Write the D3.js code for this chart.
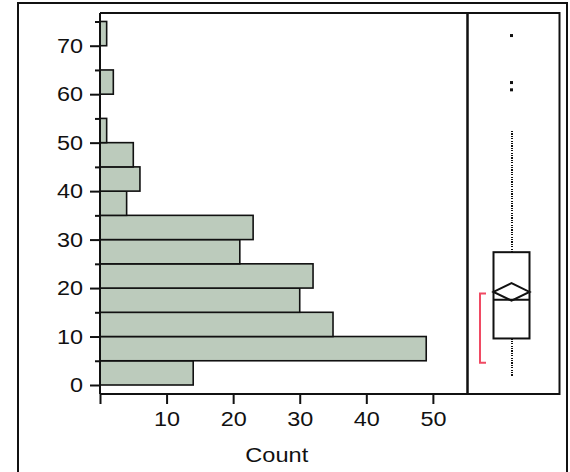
<!DOCTYPE html>
<html>
<head>
<meta charset="utf-8">
<script src="https://cdn.jsdelivr.net/npm/d3@7"></script>
<style>
  html, body { margin: 0; padding: 0; background: #fff; }
  svg { display: block; }
  text { font-family: "Liberation Sans", Arial, sans-serif; fill: #111; }
</style>
</head>
<body>
<script>
// Histogram bins (lower edge, width 5) and their counts
const binStarts = [0, 5, 10, 15, 20, 25, 30, 35, 40, 45, 50, 55, 60, 65, 70];
const binCounts = [14, 49, 35, 30, 32, 21, 23, 4, 6, 5, 1, 0, 2, 0, 1];
const binWidth = 5;

// Axis ticks
const yMajorTicks = [0, 10, 20, 30, 40, 50, 60, 70];
const yMinorTicks = [5, 15, 25, 35, 45, 55, 65, 75];
const xTicks = [10, 20, 30, 40, 50];

// Outlier box plot summary
const whiskerLow = 1.7;
const quartile1 = 9.6;
const medianValue = 17.6;
const quartile3 = 27.4;
const whiskerHigh = 52.4;
const meanValue = 19.2;
const meanCI = [17.4, 21.0];
const shortestHalf = [4.6, 18.9];
const outliers = [60.9, 62.4, 72.1];

const W = 570, H = 472;
const svg = d3.select("body").append("svg").attr("width", W).attr("height", H);

// Outer frame
svg.append("rect").attr("x", 18).attr("y", 3).attr("width", 549).attr("height", 490)
  .attr("fill", "none").attr("stroke", "#111").attr("stroke-width", 2);

const plotTop = 13, plotBottom = 394, plotLeft = 100, histRight = 467.5;
const boxLeft = 467.5, boxRight = 559.5;

const y = d3.scaleLinear().domain([-1.857, 76.75]).range([plotBottom, plotTop]);
const x = d3.scaleLinear().domain([0, 55.2]).range([plotLeft, histRight]);

// Bars
svg.append("g").selectAll("rect").data(binStarts.map((s, i) => ({ s, c: binCounts[i] })).filter(d => d.c > 0))
  .join("rect")
  .attr("x", x(0))
  .attr("y", d => y(d.s + binWidth))
  .attr("width", d => x(d.c) - x(0))
  .attr("height", d => y(d.s) - y(d.s + binWidth))
  .attr("fill", "#bccbbc")
  .attr("stroke", "#111")
  .attr("stroke-width", 1.6);

// Histogram panel frame (top and right)
svg.append("path")
  .attr("d", `M${plotLeft},${plotTop}H${histRight}V${plotBottom}`)
  .attr("fill", "none").attr("stroke", "#111").attr("stroke-width", 2);

// Y axis: major ticks with labels, minor ticks without
const yAxis = svg.append("g").attr("transform", `translate(${plotLeft},0)`)
  .call(d3.axisLeft(y).tickValues(yMajorTicks).tickSize(10).tickSizeOuter(0).tickFormat(d3.format("d")));
yAxis.select(".domain").attr("stroke", "#111").attr("stroke-width", 2)
  .attr("d", `M0,${plotTop}V${plotBottom}`);
yAxis.selectAll(".tick line").attr("stroke", "#111").attr("stroke-width", 2);
yAxis.selectAll(".tick text")
  .attr("x", null).attr("dy", null)
  .attr("font-size", 19.5)
  .attr("text-anchor", "end")
  .attr("transform", "translate(-17,6.5) scale(1.2,1)");
svg.append("g").attr("transform", `translate(${plotLeft},0)`)
  .call(d3.axisLeft(y).tickValues(yMinorTicks).tickSize(5).tickFormat(""))
  .call(g => g.select(".domain").remove())
  .call(g => g.selectAll(".tick line").attr("stroke", "#111").attr("stroke-width", 2));

// X axis
const xAxis = svg.append("g").attr("transform", `translate(0,${plotBottom})`)
  .call(d3.axisBottom(x).tickValues([0].concat(xTicks)).tickSize(10).tickSizeOuter(0)
    .tickFormat(d => d === 0 ? "" : d));
xAxis.select(".domain").attr("stroke", "#111").attr("stroke-width", 2)
  .attr("d", `M${plotLeft},0H${histRight}`);
xAxis.selectAll(".tick line").attr("stroke", "#111").attr("stroke-width", 2);
xAxis.selectAll(".tick text")
  .attr("y", null).attr("dy", null)
  .attr("font-size", 19.5)
  .attr("text-anchor", "middle")
  .attr("transform", "translate(0,32) scale(1.2,1)");

svg.append("text")
  .attr("text-anchor", "middle")
  .attr("font-size", 20.5)
  .attr("transform", `translate(${(plotLeft + histRight) / 2 - 7},${461.5}) scale(1.15,1)`)
  .text("Count");

// Box plot panel
svg.append("rect").attr("x", boxLeft).attr("y", plotTop)
  .attr("width", boxRight - boxLeft).attr("height", plotBottom - plotTop)
  .attr("fill", "none").attr("stroke", "#111").attr("stroke-width", 2);

const cx = 511.5, halfBox = 18;

// Whiskers (dotted)
const whisker = svg.append("g")
  .attr("stroke", "#111").attr("stroke-width", 2)
  .attr("stroke-dasharray", "1.2,1.2")
  .attr("shape-rendering", "crispEdges");
whisker.append("line").attr("x1", cx).attr("x2", cx).attr("y1", y(quartile3)).attr("y2", y(whiskerHigh));
whisker.append("line").attr("x1", cx).attr("x2", cx).attr("y1", y(quartile1)).attr("y2", y(whiskerLow));

// Box and median
svg.append("rect").attr("x", cx - halfBox).attr("y", y(quartile3))
  .attr("width", halfBox * 2).attr("height", y(quartile1) - y(quartile3))
  .attr("fill", "#fff").attr("stroke", "#111").attr("stroke-width", 2);
svg.append("line").attr("x1", cx - halfBox).attr("x2", cx + halfBox)
  .attr("y1", y(medianValue)).attr("y2", y(medianValue))
  .attr("stroke", "#111").attr("stroke-width", 2);

// Mean confidence diamond
svg.append("path")
  .attr("d", `M${cx - halfBox},${y(meanValue)}L${cx},${y(meanCI[1])}L${cx + halfBox},${y(meanValue)}L${cx},${y(meanCI[0])}Z`)
  .attr("fill", "none").attr("stroke", "#111").attr("stroke-width", 2);

// Shortest half bracket
const bx = 480;
svg.append("path")
  .attr("d", `M${bx + 6},${y(shortestHalf[1])}H${bx}V${y(shortestHalf[0])}H${bx + 6}`)
  .attr("fill", "none").attr("stroke", "#f04a63").attr("stroke-width", 2);

// Outliers
svg.append("g").selectAll("rect").data(outliers).join("rect")
  .attr("x", cx - 1.5).attr("y", d => y(d) - 1.5)
  .attr("width", 3).attr("height", 3).attr("fill", "#111");
</script>
</body>
</html>
